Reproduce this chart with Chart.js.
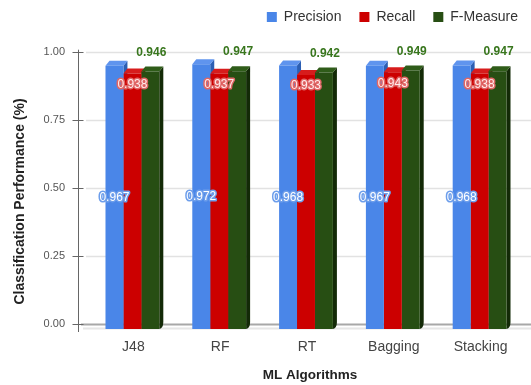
<!DOCTYPE html>
<html>
<head>
<meta charset="utf-8">
<script src="https://cdn.jsdelivr.net/npm/chart.js@4/dist/chart.umd.min.js"></script>
<style>
  html, body { margin: 0; padding: 0; background: #ffffff; }
  canvas { display: block; }
</style>
</head>
<body>
<canvas id="chart" width="531" height="385"></canvas>
<script>
// Classification results per algorithm
const algorithms = ['J48', 'RF', 'RT', 'Bagging', 'Stacking'];
const precision  = [0.967, 0.972, 0.968, 0.967, 0.968];
const recall     = [0.938, 0.937, 0.933, 0.943, 0.938];
const fMeasure   = [0.946, 0.947, 0.942, 0.949, 0.947];
const yTickValues = [0, 0.25, 0.5, 0.75, 1.0];

// Extrusion depth of the bars (front face is pushed down-left by this much)
const DX = 4, DY = 5;

const palette = [
  { front: '#4a86e8', top: '#5f94ee', side: '#2c5fb3', halo: '#6d9eeb', text: '#ffffff' },
  { front: '#cc0000', top: '#d71c1c', side: '#8a0000', halo: '#e06666', text: '#ffecec' },
  { front: '#274e13', top: '#2f5c19', side: '#132a07', halo: null,      text: '#38761d' }
];

Chart.defaults.font.family = "'Liberation Sans', Arial, sans-serif";

// Axis frame, grid lines and the extruded faces behind the bar fronts
const frame3d = {
  id: 'frame3d',
  beforeLayout(chart) {
    const lg = chart.legend;
    if (lg && !lg._fixedHeight) {
      const fit = lg.fit.bind(lg);
      lg.fit = function () { fit(); this.height = 59.7; };
      lg._fixedHeight = true;
    }
  },
  beforeDatasetsDraw(chart) {
    const { ctx, chartArea: a, scales: { y } } = chart;
    ctx.save();
    // grid lines
    yTickValues.forEach(v => {
      if (v === 0) return;
      const py = Math.round(y.getPixelForValue(v)) + 0.5;
      ctx.strokeStyle = '#e2e2e2';
      ctx.lineWidth = 1.5;
      ctx.beginPath(); ctx.moveTo(a.left - 7, py); ctx.lineTo(chart.width, py); ctx.stroke();
    });
    // floor
    const y0 = Math.round(y.getPixelForValue(0)) + 0.5;
    ctx.strokeStyle = '#e6e6e6'; ctx.lineWidth = 2;
    ctx.beginPath(); ctx.moveTo(a.left - 10, y0 + 4); ctx.lineTo(chart.width, y0 + 4); ctx.stroke();
    ctx.strokeStyle = '#a8a8a8'; ctx.lineWidth = 2;
    ctx.beginPath(); ctx.moveTo(a.left - 12, y0); ctx.lineTo(chart.width, y0); ctx.stroke();
    // vertical axis with tick marks
    const ax = Math.round(a.left - 15) + 0.5;
    ctx.strokeStyle = '#666666'; ctx.lineWidth = 1;
    ctx.beginPath(); ctx.moveTo(ax, a.top - 2); ctx.lineTo(ax, a.bottom + 8); ctx.stroke();
    yTickValues.forEach(v => {
      const py = Math.round(y.getPixelForValue(v)) + 0.5;
      ctx.beginPath(); ctx.moveTo(ax - 6, py); ctx.lineTo(ax + 5, py); ctx.stroke();
    });
    // side and top faces, drawn per category from left to right
    algorithms.forEach((_, i) => {
      chart.data.datasets.forEach((ds, d) => {
        const el = chart.getDatasetMeta(d).data[i];
        const { x, y: top, base, width } = el.getProps(['x', 'y', 'base', 'width'], true);
        const L = x - width / 2 - DX, R = x + width / 2 - DX;
        const T = top + DY, B = base + DY;
        const f = palette[d];
        ctx.fillStyle = f.side;
        ctx.beginPath();
        ctx.moveTo(R, T); ctx.lineTo(R + DX, T - DY); ctx.lineTo(R + DX, B - DY - 2);
        ctx.quadraticCurveTo(R + DX, B - 1, R, B); ctx.closePath(); ctx.fill();
        ctx.fillStyle = f.top;
        ctx.beginPath();
        ctx.moveTo(L, T); ctx.lineTo(L + DX, T - DY); ctx.lineTo(R + DX, T - DY); ctx.lineTo(R, T);
        ctx.closePath(); ctx.fill();
      });
    });
    // the bar fronts themselves are drawn by Chart.js, shifted to the front plane
    ctx.translate(-DX, DY);
  },
  afterDatasetsDraw(chart) {
    const { ctx } = chart;
    ctx.restore();
    ctx.save();
    ctx.textAlign = 'center';
    ctx.textBaseline = 'middle';
    ctx.lineJoin = 'round';
    chart.data.datasets.forEach((ds, d) => {
      const f = palette[d];
      chart.getDatasetMeta(d).data.forEach((el, i) => {
        const { x, y: top, base } = el.getProps(['x', 'y', 'base'], true);
        const label = ds.data[i].toFixed(3);
        let lx = x - DX, ly;
        if (d === 0) ly = (top + base) / 2 + DY;
        else if (d === 1) ly = top + DY + 11;
        else { ly = top - 14; lx += 1; }
        ctx.font = (d === 2 ? 'bold ' : '') + "12px 'Liberation Sans', Arial, sans-serif";
        if (f.halo) {
          ctx.strokeStyle = f.halo; ctx.lineWidth = 3;
          ctx.strokeText(label, lx, ly);
        }
        ctx.fillStyle = f.text;
        ctx.fillText(label, lx, ly);
      });
    });
    ctx.restore();
  },
  afterDraw(chart) {
    const { ctx } = chart;
    ctx.save();
    ctx.translate(20, 201.5);
    ctx.rotate(-Math.PI / 2);
    ctx.textAlign = 'center';
    ctx.textBaseline = 'middle';
    ctx.fillStyle = '#222222';
    ctx.font = "bold 14px 'Liberation Sans', Arial, sans-serif";
    ctx.fillText('Classification Performance (%)', 0, 0);
    ctx.restore();
  }
};

new Chart(document.getElementById('chart'), {
  type: 'bar',
  data: {
    labels: algorithms,
    datasets: [
      { label: 'Precision', data: precision, backgroundColor: palette[0].front },
      { label: 'Recall',    data: recall,    backgroundColor: palette[1].front },
      { label: 'F-Measure', data: fMeasure,  backgroundColor: palette[2].front }
    ]
  },
  options: {
    responsive: false,
    animation: false,
    devicePixelRatio: 1,
    layout: { padding: { top: -8, right: -5, bottom: 0, left: 0 } },
    datasets: { bar: { categoryPercentage: 0.62, barPercentage: 1.0, borderWidth: 0, clip: false } },
    plugins: {
      legend: {
        position: 'top',
        align: 'end',
        labels: {
          boxWidth: 10, boxHeight: 10, padding: 18,
          color: '#333333',
          font: { size: 14 }
        }
      },
      tooltip: { enabled: false }
    },
    scales: {
      x: {
        grid: { display: false, drawTicks: false },
        border: { display: false },
        ticks: { color: '#444444', font: { size: 14 }, padding: 15, labelOffset: -3 },
        title: {
          display: true, text: 'ML Algorithms', color: '#222222',
          font: { size: 13.5, weight: 'bold' }, padding: { top: 0, bottom: 2 }
        },
        afterFit(s) { s.height = 61; }
      },
      y: {
        min: 0, max: 1,
        grid: { display: false, drawTicks: false },
        border: { display: false },
        ticks: {
          stepSize: 0.25, color: '#555555', font: { size: 11 }, padding: 28,
          callback: v => Number(v).toFixed(2)
        },
        afterFit(s) { s.width = 93; }
      },
      spacer: {
        type: 'linear', position: 'right', display: true,
        grid: { display: false, drawTicks: false },
        border: { display: false },
        ticks: { display: false },
        afterFit(s) { s.width = 9; }
      }
    }
  },
  plugins: [frame3d]
});
</script>
</body>
</html>
